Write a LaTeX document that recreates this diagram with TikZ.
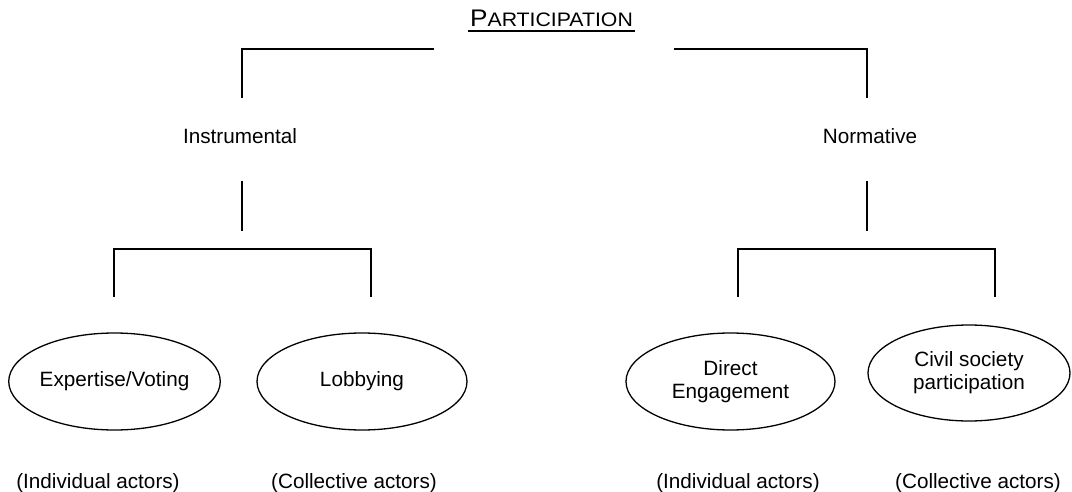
\documentclass[tikz,border=0pt]{standalone}
\usepackage{fontspec}
\setmainfont{Liberation Sans}
\usetikzlibrary{shapes.geometric}
\begin{document}
\begin{tikzpicture}[x=0.5pt,y=-0.5pt,
  lbl/.style={font=\fontsize{10.35}{11.5}\selectfont, inner sep=0pt, anchor=base},
  oval/.style={draw, ellipse, line width=0.65pt, inner sep=0pt, minimum height=48.5pt,
    font=\fontsize{10.35}{11.5}\selectfont, align=center},
  brline/.style={line width=0.65pt}]
\useasboundingbox[fill=white] (0,0) rectangle (1072,492);
% title
\node[anchor=base, inner sep=0pt] (title) at (551.5,27)
  {\scalebox{1.09}[1]{\fontsize{12}{14}\selectfont P\fontsize{9.75}{12}\selectfont ARTICIPATION}};
\coordinate (ulA) at (468,31);
\coordinate (ulB) at (635,31);
\draw[line width=1pt] (ulA) -- (ulB);
% second level
\node[lbl] (instr) at (240,144) {Instrumental};
\node[lbl] (norm) at (870,144) {Normative};
% top bracket
\coordinate (tL1) at (434,49);
\coordinate (tL2) at (242,49);
\coordinate (tL3) at (242,98);
\coordinate (tR1) at (674,49);
\coordinate (tR2) at (867,49);
\coordinate (tR3) at (867,98);
\draw[brline] (tL1) -- (tL2) -- (tL3);
\draw[brline] (tR1) -- (tR2) -- (tR3);
% instrumental bracket
\coordinate (iA) at (242,181);
\coordinate (iB) at (242,231);
\coordinate (iL1) at (114,297);
\coordinate (iL2) at (114,249);
\coordinate (iR2) at (371,249);
\coordinate (iR1) at (371,297);
\draw[brline] (iA) -- (iB);
\draw[brline] (iL1) -- (iL2) -- (iR2) -- (iR1);
% normative bracket
\coordinate (nA) at (867,181);
\coordinate (nB) at (867,231);
\coordinate (nL1) at (738,297);
\coordinate (nL2) at (738,249);
\coordinate (nR2) at (995,249);
\coordinate (nR1) at (995,297);
\draw[brline] (nA) -- (nB);
\draw[brline] (nL1) -- (nL2) -- (nR2) -- (nR1);
% ellipses
\node[oval, minimum width=104.5pt] (exp) at (114.5,381.5) {Expertise/Voting};
\node[oval, minimum width=105pt] (lob) at (362,381.5) {Lobbying};
\node[oval, minimum width=104.5pt] (dir) at (730.5,381.5) {Direct\\Engagement};
\node[oval, minimum width=101pt, minimum height=48pt] (civ) at (969,373) {Civil society\\participation};
% actor labels
\node[lbl] (ind1) at (98,488) {(Individual actors)};
\node[lbl] (col1) at (354,488) {(Collective actors)};
\node[lbl] (ind2) at (738,488) {(Individual actors)};
\node[lbl] (col2) at (978,488) {(Collective actors)};
\end{tikzpicture}
\end{document}
